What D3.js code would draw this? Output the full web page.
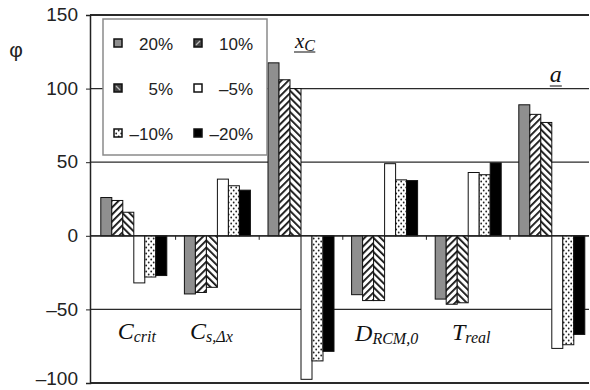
<!DOCTYPE html>
<html>
<head>
<meta charset="utf-8">
<script src="https://cdn.jsdelivr.net/npm/d3@7"></script>
<style>
  html, body { margin: 0; padding: 0; background: #fff; }
  svg { display: block; }
</style>
</head>
<body>
<svg id="chart" width="590" height="390"></svg>
<script>
// Parameters whose sensitivity is shown (main symbol, subscript)
const categories = ["Ccrit", "Cs,Δx", "xC", "DRCM,0", "Treal", "a"];
const catMain = ["C", "C", "x", "D", "T", "a"];
const catSub = ["crit", "s,Δx", "C", "RCM,0", "real", ""];

// Perturbation levels
const series = ["20%", "10%", "5%", "–5%", "–10%", "–20%"];

// Sensitivity φ per category for each perturbation level
const v20  = [26, -39.5, 117.5, -40, -43, 89];
const v10  = [24, -38.5, 106, -44, -46.5, 82.5];
const v5   = [16, -35, 100, -44, -45.5, 77];
const vm5  = [-32, 38.5, -97.5, 49, 43, -76.5];
const vm10 = [-28, 34, -85, 38, 41.5, -74];
const vm20 = [-27, 31, -78.5, 37.5, 49.5, -67];
const seriesValues = [v20, v10, v5, vm5, vm10, vm20];

const yTicks = [150, 100, 50, 0, -50, -100];
const yTickLabels = ["150", "100", "50", "0", "–50", "–100"];

const svg = d3.select("#chart");
const plotLeft = 90, plotRight = 589, plotTop = 15, plotBottom = 383;

const y = d3.scaleLinear().domain([-100, 150]).range([plotBottom, plotTop]);
const x = d3.scaleBand().domain(categories).range([92, 593.6]).padding(0);
const xs = d3.scaleBand().domain(series).range([0, x.bandwidth()])
  .paddingInner(0).paddingOuter(0.8);

// Fill patterns
const defs = svg.append("defs");
function hatch(id, dir) {
  const p = defs.append("pattern").attr("id", id)
    .attr("patternUnits", "userSpaceOnUse").attr("width", 5).attr("height", 5)
    .attr("patternTransform", `rotate(${dir})`);
  p.append("rect").attr("width", 5).attr("height", 5).attr("fill", "#fff");
  p.append("rect").attr("x", 0).attr("y", 0).attr("width", 1.8).attr("height", 5).attr("fill", "#111");
}
hatch("hatchR", 45);
hatch("hatchL", -45);
const dots = defs.append("pattern").attr("id", "dots")
  .attr("patternUnits", "userSpaceOnUse").attr("width", 5).attr("height", 6);
dots.append("rect").attr("width", 5).attr("height", 6).attr("fill", "#fff");
dots.append("circle").attr("cx", 1.2).attr("cy", 1.5).attr("r", 0.9).attr("fill", "#222");
dots.append("circle").attr("cx", 3.7).attr("cy", 4.5).attr("r", 0.9).attr("fill", "#222");

const fills = ["#8f8f8f", "url(#hatchR)", "url(#hatchL)", "#fff", "url(#dots)", "#000"];

// Horizontal grid lines and frame
svg.append("g").selectAll("line").data(yTicks).join("line")
  .attr("x1", plotLeft).attr("x2", plotRight)
  .attr("y1", d => y(d)).attr("y2", d => y(d))
  .attr("stroke", "#2a2a2a").attr("stroke-width", d => (d === 150 || d === -100) ? 1.8 : 1.2);

// Bars
const barG = svg.append("g");
series.forEach((s, si) => {
  barG.append("g").selectAll("rect").data(seriesValues[si]).join("rect")
    .attr("x", (d, i) => x(categories[i]) + xs(s))
    .attr("width", xs.bandwidth())
    .attr("y", d => y(Math.max(0, d)))
    .attr("height", d => Math.abs(y(d) - y(0)))
    .attr("fill", fills[si])
    .attr("stroke", "#111").attr("stroke-width", 1);
});

// Zero line and category ticks
svg.append("line").attr("x1", plotLeft).attr("x2", plotRight)
  .attr("y1", y(0)).attr("y2", y(0)).attr("stroke", "#222").attr("stroke-width", 1.2);
svg.append("g").selectAll("line").data(categories.slice(1)).join("line")
  .attr("x1", d => x(d)).attr("x2", d => x(d))
  .attr("y1", y(0)).attr("y2", y(0) + 4)
  .attr("stroke", "#222");

// Y axis (lowest label nudged up so it stays inside the canvas)
const yAxis = d3.axisLeft(y).tickValues(yTicks)
  .tickFormat((d, i) => yTickLabels[i]).tickSize(4).tickPadding(8);
const ag = svg.append("g").attr("transform", `translate(${plotLeft},0)`).call(yAxis);
ag.select(".domain").attr("stroke", "#222").attr("stroke-width", 1.5);
ag.selectAll(".tick line").attr("stroke", "#222");
ag.selectAll(".tick text").attr("font-family", "Liberation Sans, Arial, sans-serif")
  .attr("font-size", 19).attr("fill", "#222")
  .attr("dy", d => d === -100 ? "0.1em" : "0.3em");

svg.append("text").attr("x", 16).attr("y", 57).attr("text-anchor", "middle")
  .attr("font-family", "Liberation Sans, Arial, sans-serif").attr("font-size", 21)
  .attr("fill", "#222").text("φ");

// Legend
const lg = svg.append("g");
lg.append("rect").attr("x", 103).attr("y", 19).attr("width", 164).attr("height", 136)
  .attr("fill", "#fff").attr("stroke", "#8a8a8a").attr("stroke-width", 1.5);
series.forEach((s, i) => {
  const col = i % 2, row = Math.floor(i / 2);
  const sx = 114 + col * 80, cy = 43 + row * 45;
  lg.append("rect").attr("x", sx).attr("y", cy - 4).attr("width", 8).attr("height", 8)
    .attr("fill", i === 1 || i === 2 ? "#444" : fills[i])
    .attr("stroke", "#111").attr("stroke-width", 1.5);
  if (i === 1 || i === 2) {
    lg.append("line").attr("x1", sx + 2).attr("x2", sx + 6)
      .attr("y1", i === 1 ? cy + 2 : cy - 2).attr("y2", i === 1 ? cy - 2 : cy + 2)
      .attr("stroke", "#bbb").attr("stroke-width", 1.2);
  }
  lg.append("text").attr("x", 173 + col * 80).attr("y", cy + 6.5)
    .attr("text-anchor", "end")
    .attr("font-family", "Liberation Sans, Arial, sans-serif").attr("font-size", 17)
    .attr("fill", "#222").text(s);
});

// Category labels
const labelY = [339, 339, 48, 341, 340, 82];
const labelDx = [3, -6, 4, 2, 3, 4];
categories.forEach((c, i) => {
  const t = svg.append("text")
    .attr("x", x(c) + x.bandwidth() / 2 + labelDx[i]).attr("y", labelY[i])
    .attr("text-anchor", "middle")
    .attr("font-family", "Liberation Serif, Times New Roman, serif")
    .attr("font-style", "italic").attr("fill", "#111");
  t.append("tspan").attr("font-size", i === 2 ? 21 : 24).text(catMain[i]);
  if (catSub[i]) {
    t.append("tspan").attr("font-size", 16).attr("dy", 3).text(catSub[i]);
  }
  if (i === 2 || i === 5) {
    const b = t.node().getBBox();
    svg.append("line").attr("x1", b.x).attr("x2", b.x + b.width)
      .attr("y1", labelY[i] + 4).attr("y2", labelY[i] + 4)
      .attr("stroke", "#333").attr("stroke-width", 1.2);
  }
});
</script>
</body>
</html>
